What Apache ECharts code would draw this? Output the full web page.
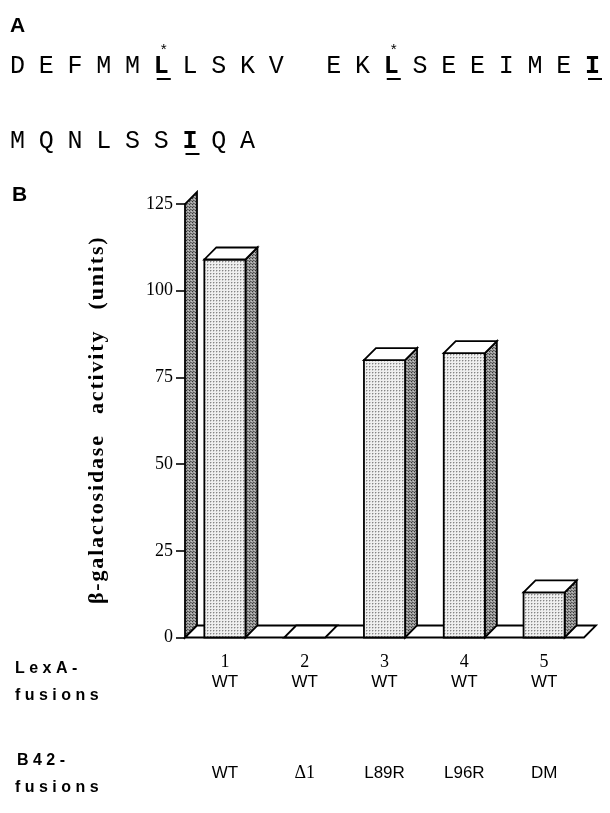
<!DOCTYPE html>
<html>
<head>
<meta charset="utf-8">
<script src="https://cdn.jsdelivr.net/npm/echarts@6.0.0/dist/echarts.min.js"></script>
<style>
  html, body { margin: 0; padding: 0; background: #ffffff; }
  #chart { width: 610px; height: 813px; }
</style>
</head>
<body>
<div id="chart"></div>
<script>
// ---- data ----
const lanes = ['1', '2', '3', '4', '5'];
const activity = [109, 0, 80, 82, 13];          // beta-galactosidase units
const lexAFusions = ['WT', 'WT', 'WT', 'WT', 'WT'];
const b42Fusions = ['WT', 'Δ1', 'L89R', 'L96R', 'DM'];
const yMin = 0, yMax = 125, yStep = 25;

// peptide sequence for panel A ('' = blank slot)
const seqLine1 = ['D','E','F','M','M','L','L','S','K','V','','E','K','L','S','E','E','I','M','E','I'];
const seqLine1Bold = [5, 13, 20];
const seqLine1Star = [5, 13];
const seqLine2 = ['M','Q','N','L','S','S','I','Q','A'];
const seqLine2Bold = [6];

// ---- drawing helpers ----
const DX = 12, DY = -12;            // oblique depth of the 3-D boxes
const INK = '#000';

function stipple(bg, dots) {
  const c = document.createElement('canvas');
  c.width = 3; c.height = 3;
  const g = c.getContext('2d');
  g.fillStyle = bg; g.fillRect(0, 0, 3, 3);
  dots.forEach(d => { g.fillStyle = d[2]; g.fillRect(d[0], d[1], 1, 1); });
  return { image: c, repeat: 'repeat' };
}
const lightDots = stipple('#efefef', [[0, 0, '#858585'], [1, 0, '#c6c6c6'], [0, 1, '#c6c6c6']]);
const darkDots = stipple('#9a9a9a', [[0, 0, '#343434'], [2, 1, '#c0c0c0'], [1, 2, '#555555'], [2, 2, '#727272']]);

const edge = { stroke: INK, lineWidth: 1.8, lineJoin: 'miter' };

function renderBox(params, api) {
  const lane = api.value(0), v = api.value(1);
  const foot = api.coord([lane, yMin]);
  const head = api.coord([lane, v]);
  const w = api.size([1, 0])[0] * 0.515;
  const x0 = foot[0] - w / 2, x1 = foot[0] + w / 2;
  const yb = foot[1], yt = head[1];
  const kids = [];
  if (yb - yt > 0.5) {
    kids.push({ type: 'polygon',
      shape: { points: [[x1, yb], [x1 + DX, yb + DY], [x1 + DX, yt + DY], [x1, yt]] },
      style: Object.assign({ fill: darkDots }, edge) });
    kids.push({ type: 'rect',
      shape: { x: x0, y: yt, width: w, height: yb - yt },
      style: Object.assign({ fill: lightDots }, edge) });
  }
  kids.push({ type: 'polygon',
    shape: { points: [[x0, yt], [x1, yt], [x1 + DX, yt + DY], [x0 + DX, yt + DY]] },
    style: Object.assign({ fill: '#ffffff' }, edge) });
  return { type: 'group', children: kids };
}

// back wall and floor of the plot box
function renderFrame(params, api) {
  const cs = params.coordSys;
  const L = cs.x, R = cs.x + cs.width, T = cs.y, B = cs.y + cs.height;
  return { type: 'group', children: [
    { type: 'polygon',
      shape: { points: [[L, B], [L, T], [L + DX, T + DY], [L + DX, B + DY]] },
      style: Object.assign({ fill: darkDots }, edge) },
    { type: 'polygon',
      shape: { points: [[L, B], [R, B], [R + DX, B + DY], [L + DX, B + DY]] },
      style: Object.assign({ fill: '#ffffff' }, edge) }
  ] };
}

// ---- panel A / headings as graphic text ----
const SEQ_X0 = 20, SEQ_PITCH = 28.75;
const seqFont = '"Liberation Mono", "DejaVu Sans Mono", monospace';
const graphics = [];

function addSeqLine(letters, boldIdx, cy) {
  letters.forEach((ch, i) => {
    if (!ch) return;
    const bold = boldIdx.indexOf(i) >= 0;
    const x = SEQ_X0 + SEQ_PITCH * i;
    graphics.push({ type: 'text', left: x - 10, top: cy - 14, z: 10,
      style: { x: 0, y: 0, text: ch, fill: INK, font: (bold ? 'bold ' : '') + '25px ' + seqFont,
               width: 20, align: 'center' } });
    if (bold) {
      graphics.push({ type: 'line', z: 10,
        shape: { x1: x - 7, y1: cy + 11, x2: x + 7, y2: cy + 11 },
        style: { stroke: INK, lineWidth: 2 } });
    }
  });
}

graphics.push({ type: 'text', left: 10, top: 16,
  style: { text: 'A', fill: INK, font: 'bold 21px "Liberation Sans", Arial, sans-serif' } });
graphics.push({ type: 'text', left: 12, top: 185,
  style: { text: 'B', fill: INK, font: 'bold 21px "Liberation Sans", Arial, sans-serif' } });

addSeqLine(seqLine1, seqLine1Bold, 68);
seqLine1Star.forEach(i => {
  graphics.push({ type: 'text', left: SEQ_X0 + SEQ_PITCH * i - 4.5, top: 44,
    style: { text: '*', fill: INK, font: '15px ' + seqFont } });
});
addSeqLine(seqLine2, seqLine2Bold, 143);

const headFont = 'bold 16px "Liberation Sans", Arial, sans-serif';
function spaced(s) { return s.split('').join(' '); }
[['LexA-', 15, 661], ['fusions', 15, 688], ['B42-', 17, 753], ['fusions', 15, 780]].forEach(r => {
  graphics.push({ type: 'text', left: r[1], top: r[2],
    style: { text: spaced(r[0]), fill: INK, font: headFont } });
});

// y-axis title, letters slightly tracked
const yTitle = ['β-galactosidase', 'activity', '(units)']
  .map(w => w.split('').join('\u200A')).join('\u2003');

// ---- chart ----
const chart = echarts.init(document.getElementById('chart'), null, { renderer: 'canvas' });

const hiddenAxis = { axisLine: { show: false }, axisTick: { show: false }, splitLine: { show: false } };

chart.setOption({
  backgroundColor: '#ffffff',
  animation: false,
  grid: { left: 185, top: 204, width: 399, height: 433.5, outerBoundsMode: 'none', containLabel: false },
  xAxis: [
    Object.assign({ type: 'category', data: lanes, position: 'bottom',
      axisLabel: { margin: 16, color: INK, fontFamily: '"Liberation Serif", "Times New Roman", serif', fontSize: 18 } }, hiddenAxis),
    Object.assign({ type: 'category', data: lexAFusions, position: 'bottom',
      axisLabel: { margin: 36, color: INK, fontFamily: '"Liberation Sans", Arial, sans-serif', fontSize: 17, interval: 0 } }, hiddenAxis),
    Object.assign({ type: 'category', data: b42Fusions, position: 'bottom',
      axisLabel: { margin: 127, color: INK, fontFamily: '"Liberation Sans", Arial, sans-serif', fontSize: 17, interval: 0,
        formatter: v => v === 'Δ1' ? '{serif|' + v + '}' : v,
        rich: { serif: { fontFamily: '"Liberation Serif", "Times New Roman", serif', fontSize: 18, color: INK } } } }, hiddenAxis)
  ],
  yAxis: {
    type: 'value', min: yMin, max: yMax, interval: yStep,
    axisLine: { show: false },
    axisTick: { show: true, length: 9, lineStyle: { color: INK, width: 1.6 } },
    splitLine: { show: false },
    axisLabel: { margin: 12, color: INK, fontFamily: '"Liberation Serif", "Times New Roman", serif', fontSize: 18 },
    name: yTitle,
    nameLocation: 'middle', nameRotate: 90, nameGap: 77,
    nameTextStyle: { color: INK, fontFamily: '"Liberation Serif", "Times New Roman", serif', fontWeight: 'bold', fontSize: 22 }
  },
  series: [
    { type: 'custom', name: 'frame', renderItem: renderFrame, data: [[0, 0]], z: 1, silent: true,
      encode: { x: 0, y: 1 } },
    { type: 'custom', name: 'activity', renderItem: renderBox, z: 2,
      data: activity.map((v, i) => [i, v]), encode: { x: 0, y: 1 } }
  ],
  graphic: graphics
});
</script>
</body>
</html>
